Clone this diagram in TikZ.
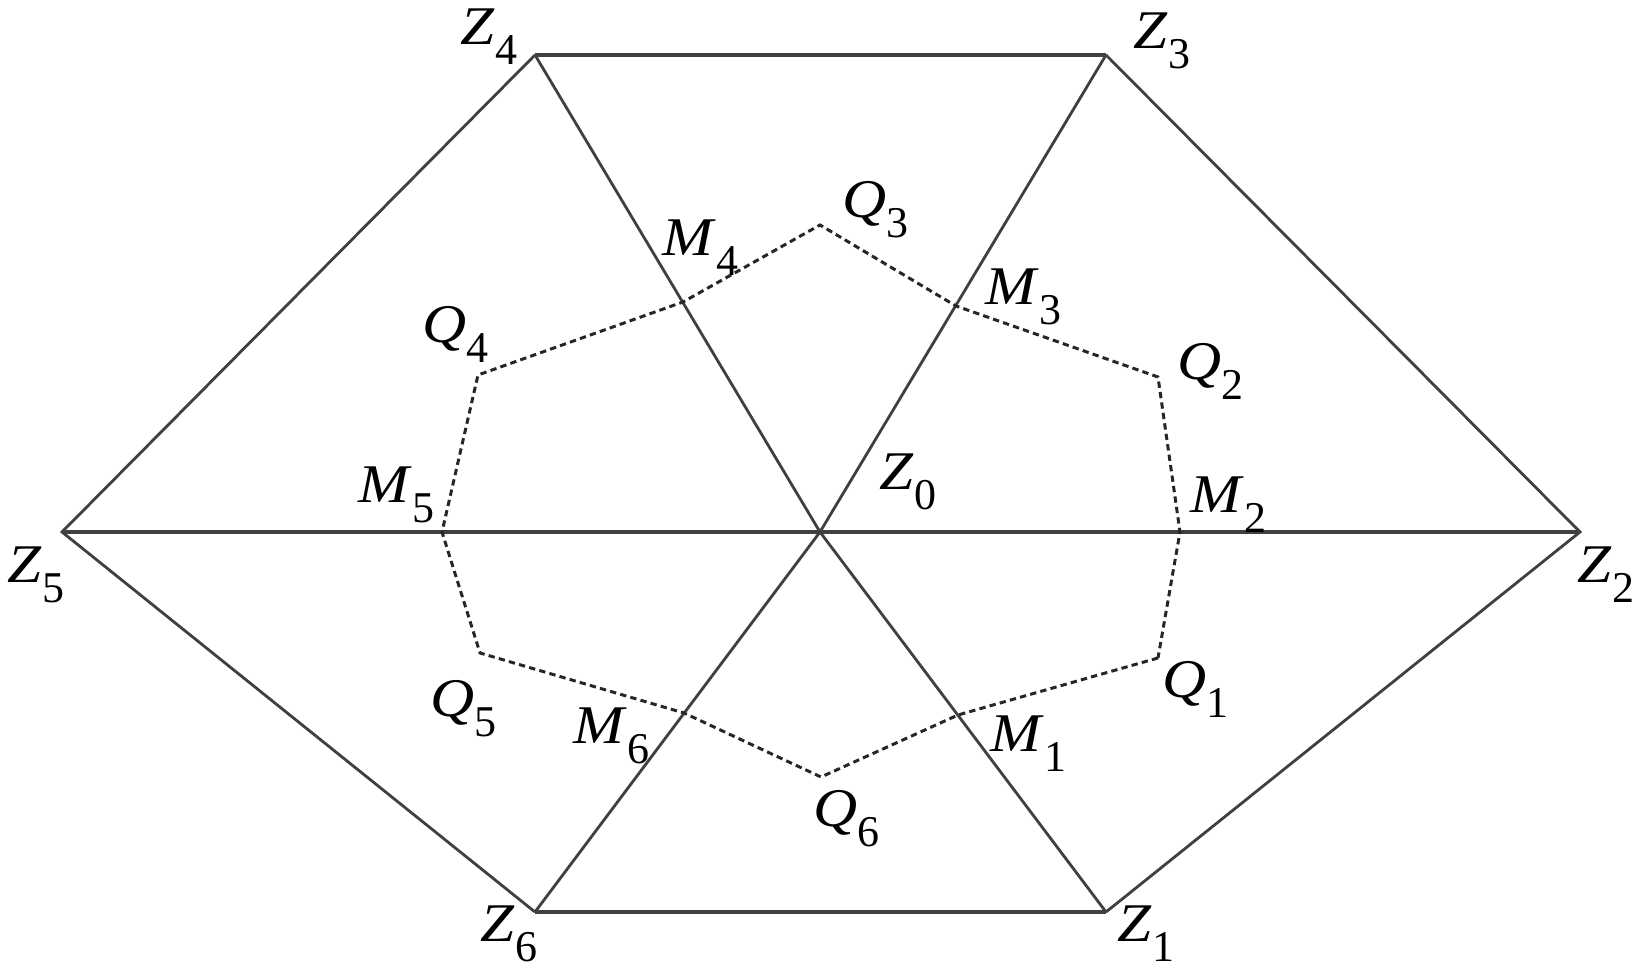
\documentclass[tikz,border=0pt]{standalone}
\usepackage{fontspec}
\setmainfont{Liberation Serif}
\usetikzlibrary{positioning}
\tikzstyle{edge}=[draw=black!75, line width=0.8pt]
\tikzstyle{side}=[draw=black!75, line width=1.3pt]
\tikzstyle{mid}=[draw=black!85, line width=0.85pt, dash pattern=on 1.8pt off 1.2pt]
\tikzstyle{lab}=[inner sep=0pt, anchor=base west, font=\fontsize{15.5}{17}\selectfont]
\newcommand{\plab}[2]{\scalebox{1.12}[1]{\textit{#1}}\raisebox{-5.5pt}{\fontsize{12.5}{14}\selectfont #2}}
\begin{document}
\begin{tikzpicture}[x=0.01cm,y=-0.01cm]
\useasboundingbox (0,0) rectangle (1647,980);
% outer points
\coordinate (Z0) at (820,532);
\coordinate (Z1) at (1106,912);
\coordinate (Z2) at (1580,532);
\coordinate (Z3) at (1106,55);
\coordinate (Z4) at (535,55);
\coordinate (Z5) at (62,532);
\coordinate (Z6) at (535,912);
% inner points
\coordinate (Q1) at (1158,658);
\coordinate (Q2) at (1158,377);
\coordinate (Q3) at (820,225);
\coordinate (Q4) at (478,375);
\coordinate (Q5) at (480,653);
\coordinate (Q6) at (821,777);
\coordinate (M1) at (958,715);
\coordinate (M2) at (1180,532);
\coordinate (M3) at (956,306);
\coordinate (M4) at (683,302);
\coordinate (M5) at (442,532);
\coordinate (M6) at (684,713);

\draw[side] (Z4) -- (Z3);
\draw[side] (Z5) -- (Z2);
\draw[side] (Z6) -- (Z1);
\draw[edge] (Z4) -- (Z5) -- (Z6);
\draw[edge] (Z3) -- (Z2) -- (Z1);
\draw[edge] (Z4) -- (Z0) -- (Z1);
\draw[edge] (Z3) -- (Z0) -- (Z6);
\draw[mid] (Q1) -- (M1) -- (Q6) -- (M6) -- (Q5) -- (M5) -- (Q4) -- (M4) -- (Q3) -- (M3) -- (Q2) -- (M2) -- cycle;

\node[lab] (lZ0) at (879,490) {\plab{Z}{0}};
\node[lab] (lZ1) at (1117,942) {\plab{Z}{1}};
\node[lab] (lZ2) at (1577,583) {\plab{Z}{2}};
\node[lab] (lZ3) at (1133,49) {\plab{Z}{3}};
\node[lab] (lZ4) at (460,45) {\plab{Z}{4}};
\node[lab] (lZ5) at (7,583) {\plab{Z}{5}};
\node[lab] (lZ6) at (480,942) {\plab{Z}{6}};

\node[lab] (lQ1) at (1162,698) {\plab{Q}{1}};
\node[lab] (lQ2) at (1177,380) {\plab{Q}{2}};
\node[lab] (lQ3) at (842,218) {\plab{Q}{3}};
\node[lab] (lQ4) at (422,343) {\plab{Q}{4}};
\node[lab] (lQ5) at (430,717) {\plab{Q}{5}};
\node[lab] (lQ6) at (813,827) {\plab{Q}{6}};

\node[lab] (lM1) at (990,752) {\plab{M}{1}};
\node[lab] (lM2) at (1190,513) {\plab{M}{2}};
\node[lab] (lM3) at (985,305) {\plab{M}{3}};
\node[lab] (lM4) at (662,256) {\plab{M}{4}};
\node[lab] (lM5) at (358,503) {\plab{M}{5}};
\node[lab] (lM6) at (573,744) {\plab{M}{6}};
\end{tikzpicture}
\end{document}
